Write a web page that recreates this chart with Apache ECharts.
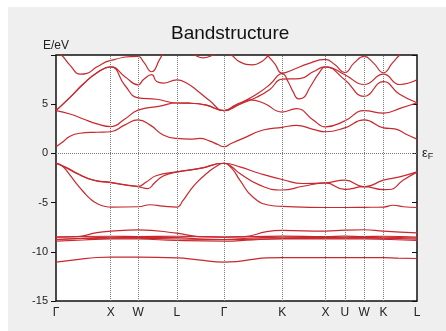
<!DOCTYPE html>
<html>
<head>
<meta charset="utf-8">
<script src="https://cdn.jsdelivr.net/npm/echarts@6/dist/echarts.min.js"></script>
<style>
html, body { margin: 0; padding: 0; background: #ffffff; }
#chart { width: 446px; height: 331px; }
</style>
</head>
<body>
<div id="chart"></div>
<script>
// High-symmetry points along the k-path (path length in units of 2π/a)
const kTicks = [0, 1, 1.5, 2.207, 3.073, 4.134, 4.924, 5.278, 5.632, 5.985, 6.598];
const kLabels = ['Γ', 'X', 'W', 'L', 'Γ', 'K', 'X', 'U', 'W', 'K', 'L'];

// Energy axis (eV)
const energyMin = -15;
const energyMax = 10;
const energyStep = 5;

// Semicore s band
const bandS = [[0,-11.05],[0.38,-10.8],[0.75,-10.58],[1,-10.55],[1.5,-10.55],[2.207,-10.62],[2.6,-10.82],[3.073,-11.05],[3.3,-11.0],[3.55,-10.8],[3.85,-10.62],[4.134,-10.6],[4.924,-10.6],[5.632,-10.6],[5.985,-10.6],[6.25,-10.64],[6.598,-10.68]];

// Narrow d manifold
const bandD1 = [[0,-8.5],[0.4,-8.45],[0.75,-8.05],[1,-7.9],[1.5,-7.77],[2.207,-8.1],[2.6,-8.45],[3.073,-8.5],[3.45,-8.45],[3.85,-7.95],[4.134,-7.83],[4.924,-7.9],[5.278,-7.8],[5.632,-7.76],[5.985,-7.9],[6.598,-8.08]];
const bandD2 = [[0,-8.5],[1,-8.42],[1.5,-8.45],[2.207,-8.42],[3.073,-8.5],[4.134,-8.4],[4.924,-8.45],[5.278,-8.4],[5.632,-8.45],[5.985,-8.42],[6.598,-8.5]];
const bandD3 = [[0,-8.75],[0.6,-8.6],[1,-8.52],[1.5,-8.55],[2.207,-8.55],[2.7,-8.72],[3.073,-8.75],[3.6,-8.6],[4.134,-8.52],[4.924,-8.55],[5.278,-8.52],[5.632,-8.55],[5.985,-8.52],[6.598,-8.6]];
const bandD4 = [[0,-8.75],[1,-8.62],[1.5,-8.62],[2.207,-8.7],[3.073,-8.75],[4.134,-8.65],[4.924,-8.62],[5.632,-8.62],[6.598,-8.72]];
const bandD5 = [[0,-8.92],[0.5,-8.8],[1,-8.68],[1.5,-8.7],[2.207,-8.85],[3.073,-8.92],[3.6,-8.78],[4.134,-8.7],[4.924,-8.68],[5.632,-8.7],[6.598,-8.85]];

// Upper valence bands
const bandV1 = [[0,-1.0],[0.11,-1.25],[0.256,-2.2],[0.378,-3.1],[0.5,-3.9],[0.621,-4.6],[0.75,-5.1],[0.926,-5.42],[1,-5.45],[1.5,-5.42],[1.72,-5.22],[1.95,-5.35],[2.207,-5.45],[2.319,-4.8],[2.447,-3.8],[2.593,-2.85],[2.752,-2.05],[2.904,-1.4],[3.073,-1.0],[3.21,-1.5],[3.36,-2.72],[3.598,-4.43],[3.908,-5.27],[4.134,-5.38],[4.924,-5.5],[5.278,-5.5],[5.632,-5.48],[5.985,-5.45],[6.16,-5.27],[6.35,-5.42],[6.598,-5.5]];
const bandV2 = [[0,-1.0],[0.2,-1.5],[0.378,-2.05],[0.681,-2.72],[1,-2.97],[1.5,-3.38],[1.68,-3.57],[1.8,-3.0],[1.96,-2.3],[2.207,-1.9],[2.63,-1.53],[3.073,-1.0],[3.2,-1.3],[3.36,-2.04],[3.725,-3.23],[4.134,-3.72],[4.516,-3.34],[4.924,-3.0],[5.278,-3.66],[5.632,-3.38],[5.985,-3.68],[6.1,-3.67],[6.343,-2.72],[6.598,-1.9]];
const bandV3 = [[0,-1.0],[0.2,-1.45],[0.378,-2.0],[0.681,-2.7],[1,-2.95],[1.5,-3.34],[1.65,-2.9],[1.84,-2.25],[2.207,-1.88],[2.63,-1.53],[3.073,-1.0],[3.36,-1.37],[3.725,-2.04],[4.134,-2.65],[4.516,-3.06],[4.924,-3.0],[5.278,-2.72],[5.632,-3.4],[5.985,-2.72],[6.282,-2.38],[6.598,-1.88]];

// Conduction bands
const bandC1 = [[0,0.68],[0.11,1.1],[0.256,1.75],[0.438,2.05],[0.75,2.15],[1,2.2],[1.26,2.9],[1.5,3.4],[1.717,2.9],[1.959,1.87],[2.207,1.52],[2.447,1.45],[2.63,1.52],[2.812,1.25],[2.958,0.9],[3.073,0.68],[3.2,1.0],[3.421,1.53],[3.786,2.38],[4.134,2.65],[4.394,2.85],[4.7,2.45],[4.924,2.2],[5.278,2.6],[5.632,3.4],[5.985,2.6],[6.191,2.5],[6.4,1.95],[6.598,1.45]];
const bandC2 = [[0,4.35],[0.256,4.0],[0.5,3.5],[0.75,3.0],[1,2.72],[1.26,3.5],[1.5,4.4],[1.9,4.8],[2.207,5.12],[2.447,5.1],[2.75,4.9],[3.073,4.35],[3.36,5.0],[3.543,5.44],[3.8,5.1],[4.134,4.2],[4.394,4.55],[4.7,3.4],[4.924,2.7],[5.278,3.3],[5.632,4.35],[5.985,4.1],[6.3,4.6],[6.598,5.15]];
const bandC3 = [[0,4.35],[0.256,5.7],[0.499,7.05],[0.75,8.2],[1,8.8],[1.26,6.9],[1.5,5.65],[1.839,5.5],[2.207,5.12],[2.447,5.1],[2.75,4.9],[3.073,4.35],[3.27,4.9],[3.452,5.35],[3.665,6.0],[3.908,7.0],[4.134,8.1],[4.25,7.2],[4.33,6.3],[4.43,5.55],[4.5,5.6],[4.65,6.8],[4.8,8.1],[4.924,8.8],[5.278,7.48],[5.632,5.8],[5.985,7.3],[6.28,6.0],[6.598,5.15]];
const bandC4 = [[0,4.35],[0.256,5.7],[0.499,7.05],[0.75,8.2],[1,8.8],[1.26,7.8],[1.5,6.97],[1.6,7.5],[1.748,8.0],[1.84,7.3],[1.959,7.14],[2.207,7.48],[2.4,7.1],[2.6,6.3],[2.8,5.4],[3.073,4.35],[3.27,4.8],[3.452,5.2],[3.665,5.7],[3.908,6.5],[4.134,7.55],[4.456,7.6],[4.7,8.3],[4.924,8.8],[5.278,8.0],[5.632,7.0],[5.985,8.05],[6.282,7.0],[6.598,7.48]];
const bandC5 = [[0,10.35],[0.1,10.0],[0.25,9.0],[0.45,8.05],[0.55,8.1],[0.75,8.8],[1,9.45],[1.5,9.86],[1.6,9.3],[1.748,8.3],[1.9,9.6],[1.959,10.1],[2.207,11.2],[2.45,10.4],[2.538,10.0],[2.69,9.7],[2.873,10.0],[3.0,10.3],[3.073,10.4],[3.208,10.0],[3.36,9.3],[3.598,9.0],[3.762,9.35],[3.871,9.9],[3.95,10.4],[4.134,11.0],[4.924,11.5],[5.632,11.5],[6.598,11.5]];
const bandC6 = [[3.5,12.0],[3.8,10.5],[3.848,10.1],[4.0,9.1],[4.134,8.15],[4.35,8.55],[4.6,9.1],[4.924,9.55],[5.1,9.0],[5.278,8.2],[5.45,9.2],[5.632,9.86],[5.8,9.2],[5.985,8.2],[6.15,9.2],[6.282,10.0],[6.45,10.8],[6.598,11.2]];

const bands = [bandS, bandD1, bandD2, bandD3, bandD4, bandD5, bandV1, bandV2, bandV3, bandC1, bandC2, bandC3, bandC4, bandC5, bandC6];

const RED = '#c8282e';
const FONT = 'Liberation Sans, Arial, sans-serif';

const chart = echarts.init(document.getElementById('chart'), null, { renderer: 'canvas' });

const bandSeries = bands.map(function (b) {
  return {
    type: 'line',
    data: b,
    showSymbol: false,
    smooth: 0.5,
    clip: true,
    silent: true,
    z: 3,
    lineStyle: { color: RED, width: 1.2 }
  };
});

// dotted guides at the high-symmetry points and at the Fermi level
const guideSeries = {
  type: 'line',
  data: [],
  silent: true,
  z: 2,
  markLine: {
    silent: true,
    symbol: 'none',
    animation: false,
    lineStyle: { color: '#7a7a7a', type: [1, 1], width: 1 },
    data: kTicks.slice(1, -1).map(function (k) { return { xAxis: k, label: { show: false } }; }).concat([{
      yAxis: 0,
      label: {
        show: true,
        position: 'end',
        distance: 5,
        formatter: '{e|ε}{f|F}',
        rich: {
          e: { fontSize: 13, color: '#222', fontFamily: FONT },
          f: { fontSize: 9, color: '#222', fontFamily: FONT, padding: [7, 0, 0, 0] }
        }
      }
    }])
  }
};

chart.setOption({
  animation: false,
  backgroundColor: '#ffffff',
  title: {
    text: 'Bandstructure',
    left: 166,
    top: 19,
    textStyle: { fontFamily: FONT, fontSize: 19, fontWeight: 'normal', color: '#111' }
  },
  graphic: [
    { type: 'rect', z: -10, silent: true, shape: { x: 8, y: 7, width: 438, height: 324 }, style: { fill: '#efefef' } },
    { type: 'text', silent: true, x: 43, y: 40, style: { text: 'E/eV', fontFamily: FONT, fontSize: 12, fill: '#222' } }
  ],
  grid: {
    left: 56, right: 29, top: 55, bottom: 30,
    show: true, backgroundColor: '#ffffff', borderColor: '#111', borderWidth: 1.5
  },
  xAxis: {
    type: 'value',
    min: kTicks[0],
    max: kTicks[kTicks.length - 1],
    axisLine: { show: false },
    axisTick: { show: false },
    splitLine: { show: false },
    axisLabel: {
      customValues: kTicks,
      formatter: function (v) {
        const i = kTicks.indexOf(v);
        return i >= 0 ? kLabels[i] : '';
      },
      fontFamily: FONT, fontSize: 12, color: '#222', margin: 6
    }
  },
  yAxis: [{
    type: 'value',
    min: energyMin, max: energyMax, interval: energyStep,
    axisLine: { show: false },
    axisTick: { show: true, inside: false, length: 5, lineStyle: { color: '#111' } },
    splitLine: { show: false },
    axisLabel: {
      formatter: function (v) { return v >= energyMax ? '' : String(v); },
      fontFamily: FONT, fontSize: 11, color: '#222', margin: 8
    }
  }, {
    type: 'value', position: 'right',
    min: energyMin, max: energyMax, interval: energyStep,
    axisLine: { show: false },
    axisTick: { show: true, inside: true, length: 5, lineStyle: { color: '#111' } },
    splitLine: { show: false },
    axisLabel: { show: false }
  }],
  series: [guideSeries].concat(bandSeries)
});
</script>
</body>
</html>
